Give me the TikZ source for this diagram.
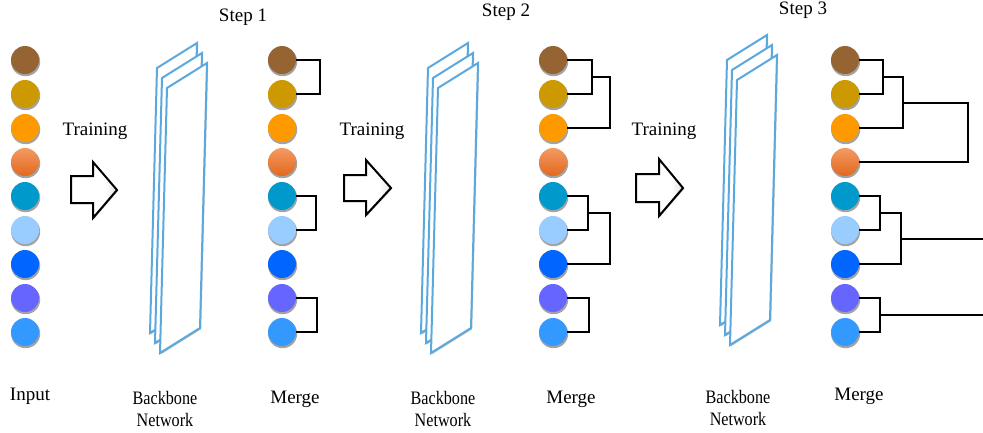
\documentclass[tikz,border=0pt]{standalone}
\usepackage{fontspec}
\setmainfont{Liberation Serif}
\usetikzlibrary{shadows,calc}
\definecolor{k1}{HTML}{966432}
\definecolor{k2}{HTML}{CC9900}
\definecolor{k3}{HTML}{FF9900}
\definecolor{k4}{HTML}{EE8040}
\definecolor{k4top}{HTML}{F39A62}
\definecolor{k4bot}{HTML}{E2681E}
\definecolor{k5}{HTML}{0099CC}
\definecolor{k6}{HTML}{99CCFF}
\definecolor{k7}{HTML}{0066FF}
\definecolor{k8}{HTML}{6666FF}
\definecolor{k9}{HTML}{3399FF}
\definecolor{planeblue}{HTML}{5BA8DF}
\pgfdeclarehorizontalshading{arrowshade}{100bp}{color(0bp)=(white); color(62bp)=(white); color(82bp)=(black!18); color(100bp)=(black!50)}
\newcommand\pairlink[3]{\draw[link] (#1.east) -- (#1.east -| #3) -- (#2.east -| #3) -- (#2.east);}
\newcommand\planestack[2]{%
  \foreach \d in {0,5,10}{%
    \draw[plane] ({#1+\d},{#2+2*\d}) -- ++(40,-25) -- ++(-7,265) -- ++(-40,25) -- cycle;}}
\newcommand\narrow[1]{\scalebox{0.85}[1]{#1}}
\begin{document}
\begin{tikzpicture}[x=1pt,y=-1pt,
  dot/.style={circle, inner sep=0pt, minimum size=28pt, draw=none,
    drop shadow={shadow xshift=0.6pt, shadow yshift=-1.6pt, shadow scale=1.04, opacity=0.45, fill=black!80}},
  lbl/.style={font=\fontsize{19}{22}\selectfont, inner sep=0pt, align=center},
  link/.style={line width=2pt, black, line join=miter},
  plane/.style={draw=planeblue, line width=2pt, fill=white, line join=miter,
    drop shadow={shadow xshift=1.2pt, shadow yshift=-1.2pt, opacity=0.25, fill=black}},
  blockarrow/.style={draw=black, line width=2pt, line join=miter, shading=arrowshade,
    drop shadow={shadow xshift=1pt, shadow yshift=-1pt, opacity=0.25, fill=black}}
]
\useasboundingbox (0,0) rectangle (983,432);

% backbone planes
\planestack{157}{68}
\planestack{428}{68}
\planestack{727}{60}

% circles
\foreach \col/\x in {a/25,b/282,c/553,d/845}{
  \foreach \i in {1,...,9}{
    \ifnum\i=4
      \node[dot, top color=k4top, bottom color=k4bot] (\col\i) at (\x,{60+34*(\i-1)}) {};
    \else
      \node[dot, fill=k\i] (\col\i) at (\x,{60+34*(\i-1)}) {};
    \fi
  }
}

% x positions of bracket lines
\coordinate (p1) at (320,0);
\coordinate (p2) at (316,0);
\coordinate (p3) at (317,0);
\coordinate (q1) at (592,0);
\coordinate (q2) at (610,0);
\coordinate (q3) at (588,0);
\coordinate (q4) at (589,0);
\coordinate (r1) at (883,0);
\coordinate (r2) at (903,0);
\coordinate (r3) at (968,0);
\coordinate (r4) at (880,0);
\coordinate (r5) at (901,0);
\coordinate (edge) at (983,0);

% step 1 merges
\pairlink{b1}{b2}{p1}
\pairlink{b5}{b6}{p2}
\pairlink{b8}{b9}{p3}

% step 2 merges
\pairlink{c1}{c2}{q1}
\coordinate (cm1) at ($(c1.east -| q1)!0.5!(c2.east -| q1)$);
\draw[link] (cm1) -- (cm1 -| q2) -- (c3.east -| q2) -- (c3.east);
\pairlink{c5}{c6}{q3}
\coordinate (cm2) at ($(c5.east -| q3)!0.5!(c6.east -| q3)$);
\draw[link] (cm2) -- (cm2 -| q2) -- (c7.east -| q2) -- (c7.east);
\pairlink{c8}{c9}{q4}

% step 3 merges
\pairlink{d1}{d2}{r1}
\coordinate (dm1) at ($(d1.east -| r1)!0.5!(d2.east -| r1)$);
\draw[link] (dm1) -- (dm1 -| r2) -- (d3.east -| r2) -- (d3.east);
\coordinate (dm2) at ($(dm1 -| r2)!0.5!(d3.east -| r2)$);
\draw[link] (dm2) -- (dm2 -| r3) -- (d4.east -| r3) -- (d4.east);
\pairlink{d5}{d6}{r4}
\coordinate (dm3) at ($(d5.east -| r4)!0.5!(d6.east -| r4)$);
\draw[link] (dm3) -- (dm3 -| r5) -- (d7.east -| r5) -- (d7.east);
\coordinate (dm4) at ($(dm3 -| r5)!0.5!(d7.east -| r5)$);
\draw[link] (dm4) -- (dm4 -| edge);
\pairlink{d8}{d9}{r4}
\coordinate (dm5) at ($(d8.east -| r4)!0.5!(d9.east -| r4)$);
\draw[link] (dm5) -- (dm5 -| edge);

% training arrows
\path[blockarrow] (71,176) -- (93,176) -- (93,162) -- (117,190) -- (93,218) -- (93,203) -- (71,203) -- cycle;
\path[blockarrow] (344,175) -- (366,175) -- (366,160) -- (391,188) -- (366,215) -- (366,201) -- (344,201) -- cycle;
\path[blockarrow] (636,174) -- (659,174) -- (659,159) -- (683,188) -- (659,216) -- (659,202) -- (636,202) -- cycle;

% labels
\node[lbl] (tr1) at (95,131) {Training};
\node[lbl] (tr2) at (372,131) {Training};
\node[lbl] (tr3) at (664,131) {Training};
\node[lbl] (s1) at (243,17) {Step 1};
\node[lbl] (s2) at (506,12) {Step 2};
\node[lbl] (s3) at (803,10) {Step 3};
\node[lbl] (in) at (30,396) {Input};
\node[lbl] (bb1) at (165,409) {\narrow{Backbone}\\\narrow{Network}};
\node[lbl] (mg1) at (295,399) {Merge};
\node[lbl] (bb2) at (443,409) {\narrow{Backbone}\\\narrow{Network}};
\node[lbl] (mg2) at (571,399) {Merge};
\node[lbl] (bb3) at (738,408) {\narrow{Backbone}\\\narrow{Network}};
\node[lbl] (mg3) at (859,396) {Merge};
\end{tikzpicture}
\end{document}
